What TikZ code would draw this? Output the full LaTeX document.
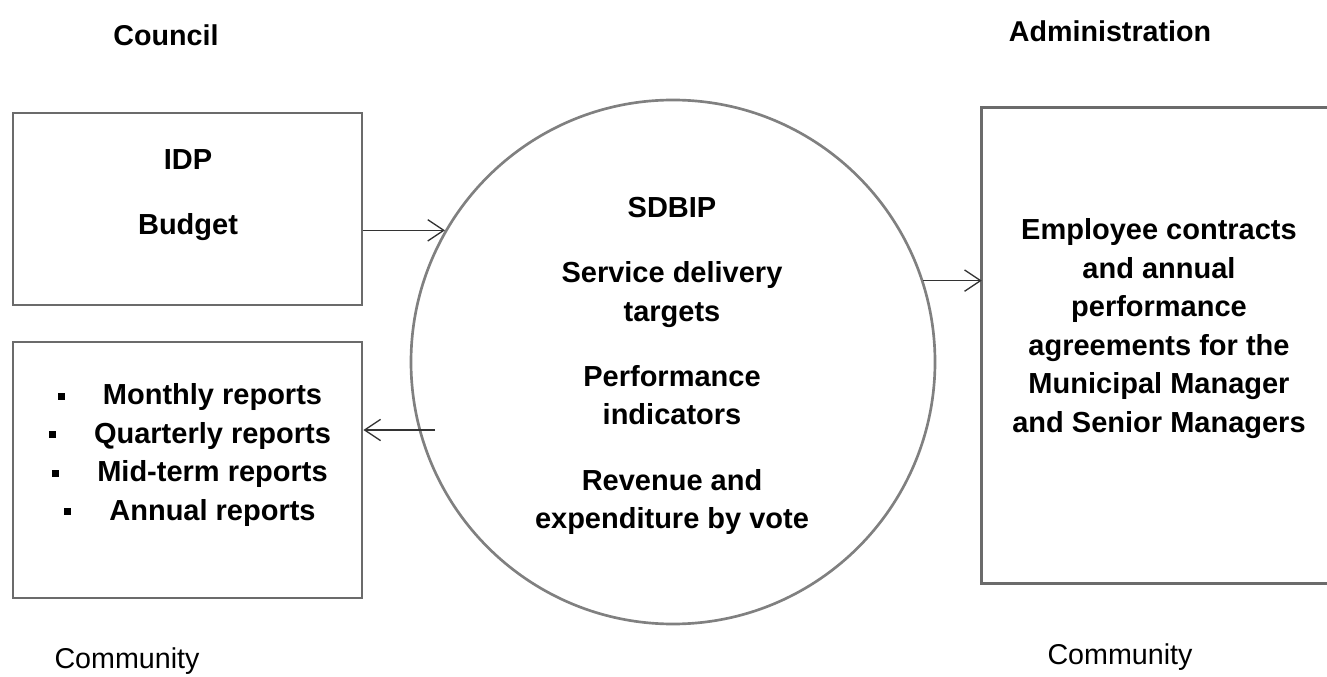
\documentclass[tikz,border=0pt]{standalone}
\usepackage{fontspec}
\setmainfont{Liberation Sans}
\usetikzlibrary{arrows.meta,calc}

% small square bullet followed by a wide gap
\newcommand\sqbullet{\raisebox{3.75pt}{\rule{5.25pt}{5.25pt}}\hspace{28.5pt}}

\begin{document}
\begin{tikzpicture}[x=0.75pt,y=-0.75pt,
  frame/.style={draw=black!58, line width=2.1pt, inner sep=0pt},
  ring/.style={circle, draw=black!50, line width=2pt, inner sep=0pt, minimum size=393pt},
  heading/.style={font=\bfseries\fontsize{21.5pt}{26pt}\selectfont},
  place/.style={font=\fontsize{21.5pt}{26pt}\selectfont},
  body/.style={font=\bfseries\fontsize{21.75pt}{28.9pt}\selectfont, align=center, inner sep=0pt},
  arr/.style={-{Straight Barb[length=12pt,width=16pt,line width=1pt]}, line width=1.2pt, black!80},
]
\useasboundingbox (0,0) rectangle (1327,677);

% column headings and footers
\node[heading] (council) at (166,35) {Council};
\node[heading] (admin) at (1110,31) {Administration};
\node[place] (commL) at (127,661) {Community};
\node[place] (commR) at (1120,657) {Community};

% council boxes
\node[frame, minimum width=261.75pt, minimum height=144pt] (plan) at (187.5,209) {};
\node[frame, minimum width=261.75pt, minimum height=192pt] (reports) at (187.5,470) {};
\node[body] (planTxt) at (188,195) {IDP\\[20pt]Budget};
\node[body] (reportsTxt) at (190,455) {\sqbullet Monthly reports\\
  \sqbullet Quarterly reports\\
  \sqbullet Mid-term reports\\
  \sqbullet Annual reports};

% central SDBIP circle
\node[ring] (sdbip) at (673,362) {};
\node[body] (sdbipTxt) at (672,366) {SDBIP\\[20pt]Service delivery\\targets\\[20pt]Performance\\indicators\\[20pt]Revenue and\\expenditure by vote};

% administration box, running off the right-hand side
\node[inner sep=0pt, minimum width=258.75pt, minimum height=356.25pt] (contracts) at (1154.5,345.5) {};
\draw[draw=black!58, line width=2.1pt] (contracts.north east) -- (contracts.north west)
  -- (contracts.south west) -- (contracts.south east);
\node[body] (contractsTxt) at (1159,328.5) {Employee contracts\\and annual\\performance\\agreements for the\\Municipal Manager\\and Senior Managers};

% flows
\draw[arr] (plan.east |- sdbip.150.4) -- (sdbip.150.4);
\coordinate (backStart) at (435,430);
\draw[arr] (backStart) -- (reports.east |- backStart);
\draw[arr] (sdbip.18.6) -- (contracts.west |- sdbip.18.6);
\end{tikzpicture}
\end{document}
